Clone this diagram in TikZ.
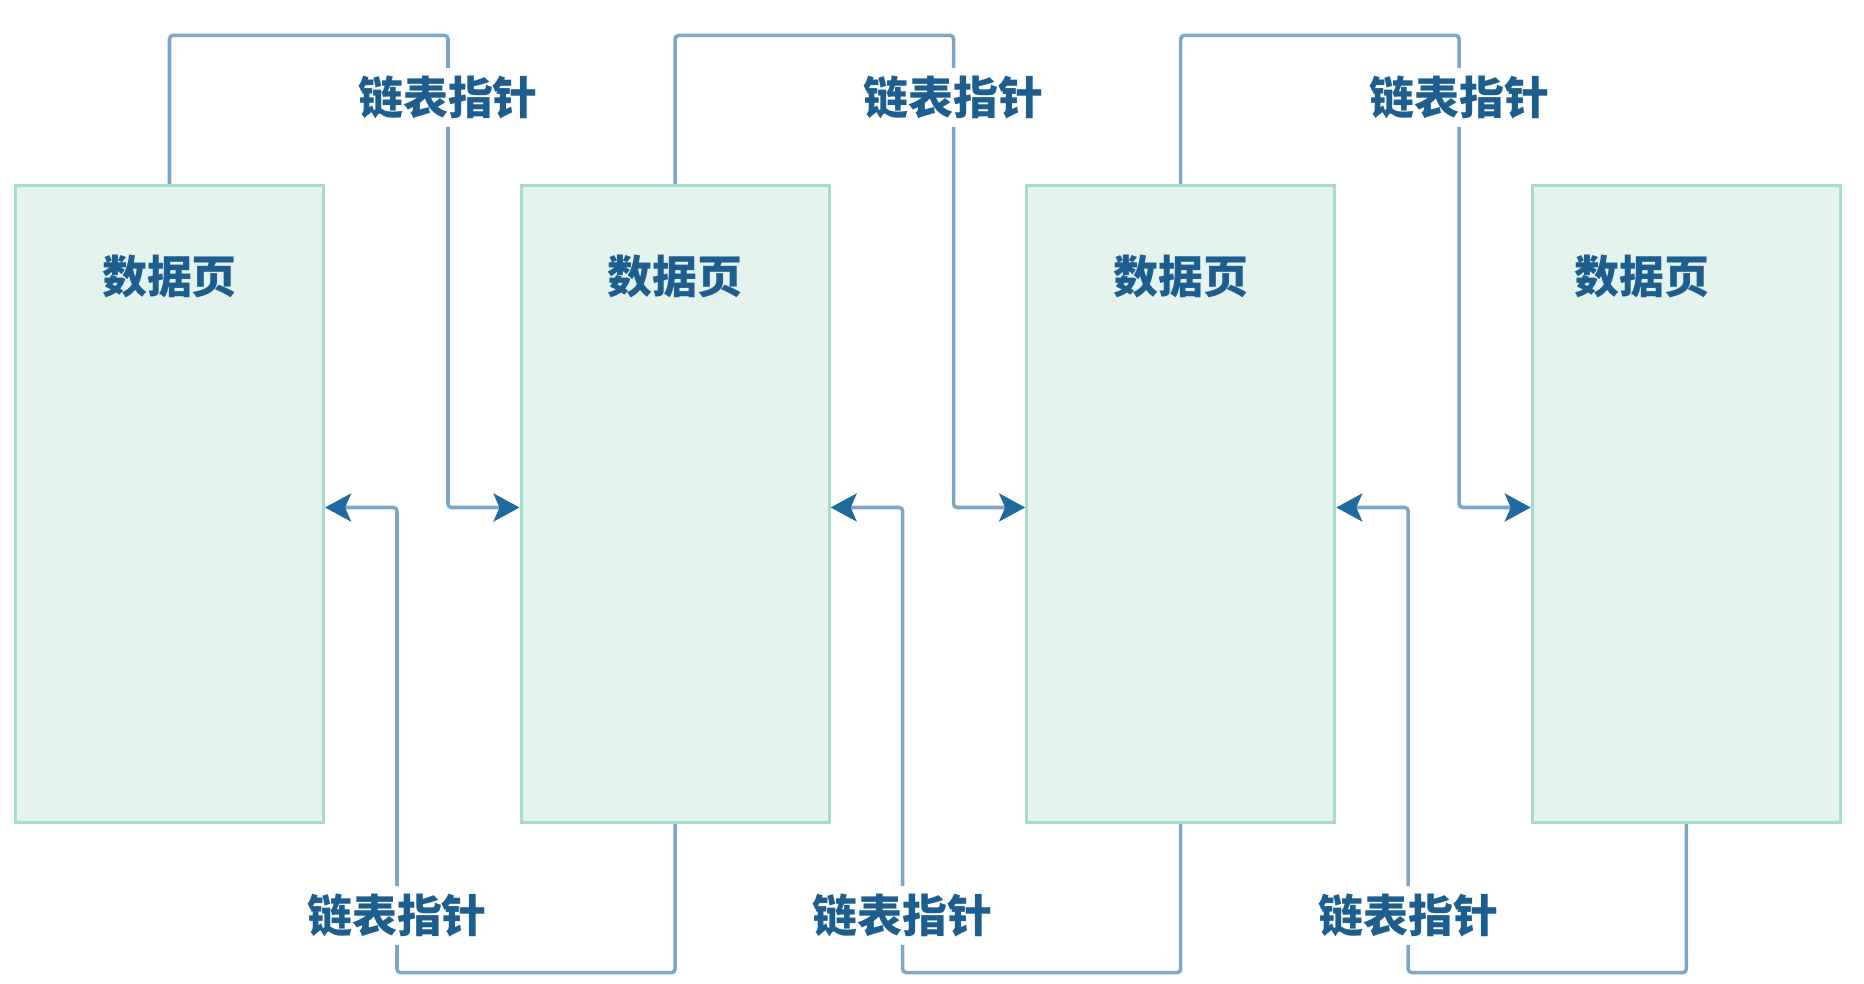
\documentclass[tikz,border=0pt]{standalone}
\usepackage{fontspec}
\newfontfamily\cjk{Noto Sans CJK SC}
\usepackage{xcolor}
\usetikzlibrary{arrows.meta, positioning}

\definecolor{pagefill}{HTML}{E5F3EE}
\definecolor{pageedge}{HTML}{A6DCC8}
\definecolor{linkline}{HTML}{7DA6C7}
\definecolor{linkhead}{HTML}{1F6A9E}
\definecolor{labelblue}{HTML}{1D5E8E}

\begin{document}
\begin{tikzpicture}[
    font=\cjk\bfseries\fontsize{12.8}{15}\selectfont,
    page/.style={draw=pageedge, fill=pagefill, line width=0.9pt, minimum width=3.08cm, minimum height=6.37cm, inner sep=0pt},
    title/.style={text=labelblue},
    ptr/.style={text=labelblue, inner sep=2pt},
    link/.style={draw=linkline, line width=1pt, rounded corners=1pt},
    arr/.style={link, -{Stealth[length=0.26cm, width=0.28cm, inset=0.06cm, color=linkhead]}},
]
\useasboundingbox (0,0) rectangle (18.64,9.84);

% data pages
\node[page] (p1) at (1.695, 4.80) {};
\node[page] (p2) at (6.751, 4.80) {};
\node[page] (p3) at (11.807, 4.80) {};
\node[page] (p4) at (16.863, 4.80) {};

\node[title] (n1) at ([yshift=-0.925cm]p1.north) {数据页};
\node[title] (n2) at ([yshift=-0.925cm]p2.north) {数据页};
\node[title] (n3) at ([yshift=-0.925cm]p3.north) {数据页};
\node[title] (n4) at ([xshift=-0.44cm, yshift=-0.925cm]p4.north) {数据页};

% pointer labels
\node[ptr] (t1) at (4.48, 8.865) {链表指针};
\node[ptr] (t2) at (9.536, 8.865) {链表指针};
\node[ptr] (t3) at (14.592, 8.865) {链表指针};

\node[ptr] (b1) at (3.97, 0.686) {链表指针};
\node[ptr] (b2) at (9.026, 0.686) {链表指针};
\node[ptr] (b3) at (14.082, 0.686) {链表指针};

% next pointers
\draw[link] (p1.north) -- ++(0,1.485) -| (t1.north);
\draw[arr] (t1.south) |- ([yshift=-0.035cm]p2.west);
\draw[link] (p2.north) -- ++(0,1.485) -| (t2.north);
\draw[arr] (t2.south) |- ([yshift=-0.035cm]p3.west);
\draw[link] (p3.north) -- ++(0,1.485) -| (t3.north);
\draw[arr] (t3.south) |- ([yshift=-0.035cm]p4.west);

% prev pointers
\draw[link] (p2.south) -- ++(0,-1.485) -| (b1.south);
\draw[arr] (b1.north) |- ([yshift=-0.035cm]p1.east);
\draw[link] (p3.south) -- ++(0,-1.485) -| (b2.south);
\draw[arr] (b2.north) |- ([yshift=-0.035cm]p2.east);
\draw[link] (p4.south) -- ++(0,-1.485) -| (b3.south);
\draw[arr] (b3.north) |- ([yshift=-0.035cm]p3.east);

\end{tikzpicture}
\end{document}
